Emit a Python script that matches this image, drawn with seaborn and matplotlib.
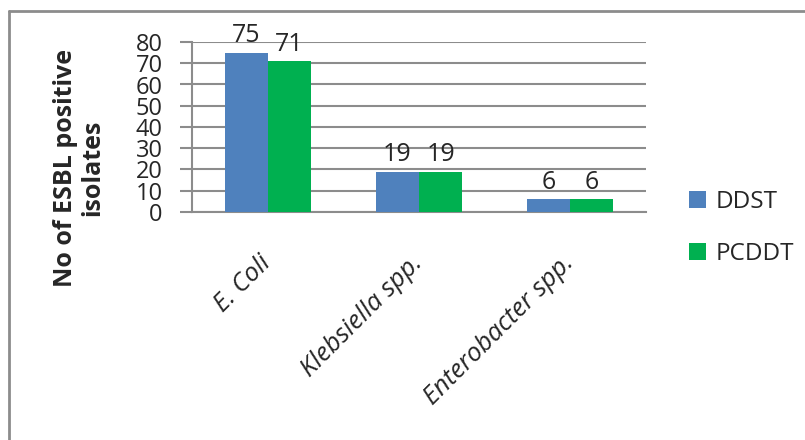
import numpy as np
import pandas as pd
import matplotlib
matplotlib.use('Agg')
import matplotlib.pyplot as plt
from matplotlib.lines import Line2D
import seaborn as sns

organisms = ["E. Coli", "Klebsiella spp.", "Enterobacter spp."]
ddst      = [75, 19, 6]
pcddt     = [71, 19, 6]
methods   = ["DDST", "PCDDT"]
colors    = ["#4F81BD", "#00B050"]

df = pd.DataFrame({
    "organism": organisms * 2,
    "method":   [methods[0]] * 3 + [methods[1]] * 3,
    "count":    ddst + pcddt,
})

sns.set_style("white")
plt.rcParams['font.family'] = ['Open Sans', 'DejaVu Sans']

fig = plt.figure(figsize=(8.05, 4.4), dpi=100)
ax = fig.add_axes([192 / 805, 1 - 212 / 440, 454 / 805, 170 / 440])

sns.barplot(data=df, x="organism", y="count", hue="method",
            palette=colors, width=0.57, saturation=1, linewidth=0,
            ax=ax, zorder=3)

for cont in ax.containers:
    ax.bar_label(cont, fmt="%d", padding=3, fontsize=18)

grid_c = "#8C8C8C"
ax.set_ylim(0, 80)
ax.set_xlim(-0.5, 2.5)
ax.set_yticks(range(0, 81, 10))
ax.yaxis.grid(True, color=grid_c, linewidth=1.5, zorder=0)
ax.tick_params(axis='y', labelsize=17, length=9, width=1.5, color=grid_c,
               direction='out', pad=12, left=True)
ax.tick_params(axis='x', length=0, labelsize=18.5, pad=34)
for lab in ax.get_xticklabels():
    lab.set_rotation(45)
    lab.set_ha('right')
    lab.set_rotation_mode('anchor')
    lab.set_va('center')
    lab.set_fontstyle('italic')

for s in ["top", "right"]:
    ax.spines[s].set_visible(False)
for s in ["left", "bottom"]:
    ax.spines[s].set_color(grid_c)
    ax.spines[s].set_linewidth(1.5)

ax.set_xlabel("")
ax.set_ylabel("No of ESBL positive\nisolates", fontsize=18, fontweight='bold',
              linespacing=1.1, va='center')
ax.yaxis.set_label_coords((79 - 192) / 454, (212 - 168) / 170)

ax.legend(loc='center left', bbox_to_anchor=(1.046, -0.094), frameon=False,
          fontsize=17.5, handlelength=0.7, handleheight=0.7, labelspacing=1.15,
          handletextpad=0.4)

# chart-area border (left and top edges)
fig.add_artist(Line2D([9 / 805, 9 / 805], [0, 1 - 11 / 440], transform=fig.transFigure,
                      color="#8C8C8C", linewidth=2))
fig.add_artist(Line2D([9 / 805, 1], [1 - 11 / 440, 1 - 11 / 440], transform=fig.transFigure,
                      color="#8C8C8C", linewidth=2))

fig.savefig("out.png", dpi=100)
